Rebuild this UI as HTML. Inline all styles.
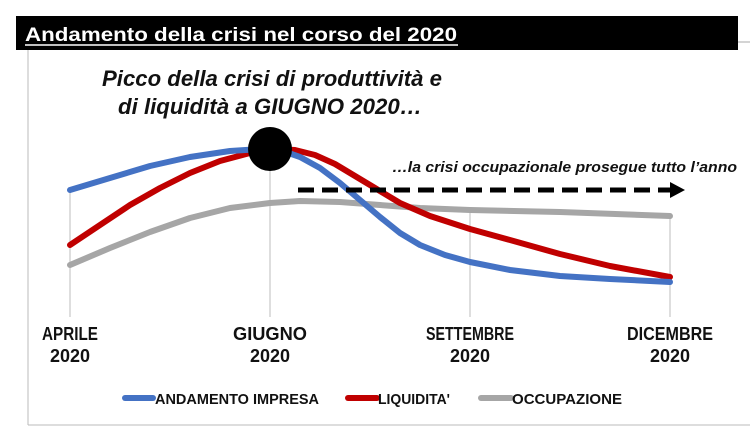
<!DOCTYPE html>
<html><head><meta charset="utf-8"><style>
html,body{margin:0;padding:0;background:#fff;}
svg{display:block;}
</style></head><body>
<svg width="750" height="431" viewBox="0 0 750 431" xmlns="http://www.w3.org/2000/svg" font-family="Liberation Sans, sans-serif">
<rect x="16" y="16" width="722" height="34" fill="#000"/>
<line x1="738" y1="42" x2="750" y2="42" stroke="#aaa" stroke-width="1"/>
<text x="25" y="41" fill="#fff" font-size="19" font-weight="bold" textLength="432" lengthAdjust="spacingAndGlyphs">Andamento della crisi nel corso del 2020</text>
<line x1="25" y1="45" x2="458" y2="45" stroke="#fff" stroke-width="1.5"/>
<line x1="28" y1="50" x2="28" y2="425" stroke="#bbb" stroke-width="1"/>
<line x1="28" y1="425" x2="750" y2="425" stroke="#bbb" stroke-width="1"/>
<g stroke="#c8c8c8" stroke-width="1.2">
<line x1="70" y1="190" x2="70" y2="317"/>
<line x1="270" y1="150" x2="270" y2="317"/>
<line x1="470" y1="210" x2="470" y2="317"/>
<line x1="670" y1="216" x2="670" y2="317"/>
</g>
<g font-style="italic" font-weight="bold" fill="#111" font-size="22" text-anchor="middle">
<text x="272" y="86" textLength="340" lengthAdjust="spacingAndGlyphs">Picco della crisi di produttività e</text>
<text x="270" y="114" textLength="304" lengthAdjust="spacingAndGlyphs">di liquidità a GIUGNO 2020…</text>
</g>
<text x="392" y="172" font-style="italic" font-weight="bold" font-size="15" fill="#111" textLength="345" lengthAdjust="spacingAndGlyphs">…la crisi occupazionale prosegue tutto l’anno</text>
<g fill="none" stroke-linecap="round" stroke-linejoin="round" stroke-width="6">
<polyline points="70,265 110,248 150,232 190,218 230,208 270,203 300,201 340,202 380,205 420,208 470,210 560,212 670,216" stroke="#a6a6a6"/>
<polyline points="70,245 100,225 130,205 160,188 190,173 220,161 250,153 275,149 295,150 315,155 335,164 355,176 375,188 400,203 430,216 470,229 510,240 560,254 610,266 670,277" stroke="#c00000"/>
<polyline points="70,190 110,178 150,166 190,157 230,151 260,149 280,150 300,157 320,168 340,183 360,200 380,217 400,233 420,245 445,255 470,262 510,270 560,276 610,279 670,282" stroke="#4472c4"/>
</g>
<line x1="298" y1="190" x2="672" y2="190" stroke="#000" stroke-width="5" stroke-dasharray="16 8"/>
<polygon points="670,182 685,190 670,198" fill="#000"/>
<circle cx="270" cy="149" r="22" fill="#000"/>
<g font-weight="bold" font-size="18" fill="#111" text-anchor="middle">
<text x="70" y="340" textLength="56" lengthAdjust="spacingAndGlyphs">APRILE</text>
<text x="70" y="362" textLength="40" lengthAdjust="spacingAndGlyphs">2020</text>
<text x="270" y="340" textLength="74" lengthAdjust="spacingAndGlyphs">GIUGNO</text>
<text x="270" y="362" textLength="40" lengthAdjust="spacingAndGlyphs">2020</text>
<text x="470" y="340" textLength="88" lengthAdjust="spacingAndGlyphs">SETTEMBRE</text>
<text x="470" y="362" textLength="40" lengthAdjust="spacingAndGlyphs">2020</text>
<text x="670" y="340" textLength="86" lengthAdjust="spacingAndGlyphs">DICEMBRE</text>
<text x="670" y="362" textLength="40" lengthAdjust="spacingAndGlyphs">2020</text>
</g>
<g stroke-width="6" stroke-linecap="round">
<line x1="125" y1="398" x2="153" y2="398" stroke="#4472c4"/>
<line x1="348" y1="398" x2="377" y2="398" stroke="#c00000"/>
<line x1="481" y1="398" x2="511" y2="398" stroke="#a6a6a6"/>
</g>
<g font-weight="bold" font-size="15" fill="#111">
<text x="155" y="404" textLength="164" lengthAdjust="spacingAndGlyphs">ANDAMENTO IMPRESA</text>
<text x="378" y="404" textLength="72" lengthAdjust="spacingAndGlyphs">LIQUIDITA'</text>
<text x="512" y="404" textLength="110" lengthAdjust="spacingAndGlyphs">OCCUPAZIONE</text>
</g>
</svg>
</body></html>
